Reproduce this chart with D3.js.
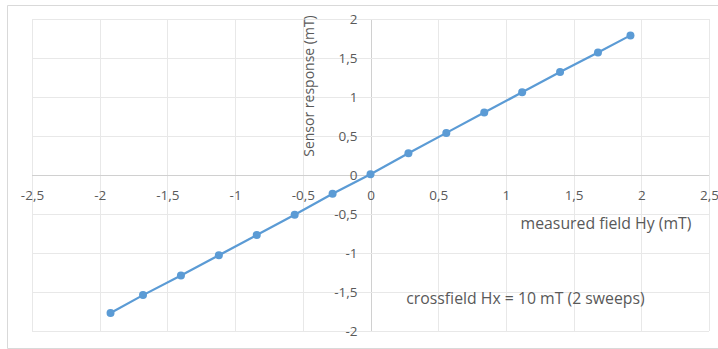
<!DOCTYPE html>
<html>

<head>
    <title>
        Sensor response
    </title>
    <script src="https://cdn.jsdelivr.net/npm/d3@7"></script>
    <style>
        body { margin: 0; background: #fff; }
        text { font-family: "Open Sans", sans-serif; fill: #595959; }
    </style>
</head>

<body>
    <svg></svg>
    <script>
        const width = 718;
        const height = 349;
        const plot = { left: 32, right: 709, top: 19, bottom: 331 };

        // measured field Hy (mT)
        let fieldHy = [-1.92, -1.68, -1.40, -1.12, -0.84, -0.56, -0.28, 0.0, 0.28, 0.56, 0.84, 1.12, 1.40, 1.68, 1.92];
        // sensor response (mT)
        let response = [-1.77, -1.54, -1.29, -1.03, -0.77, -0.51, -0.24, 0.01, 0.28, 0.54, 0.80, 1.06, 1.32, 1.57, 1.79];

        let xTicks = [-2.5, -2, -1.5, -1, -0.5, 0, 0.5, 1, 1.5, 2, 2.5];
        let yTicks = [-2, -1.5, -1, -0.5, 0, 0.5, 1, 1.5, 2];

        let locale = d3.formatLocale({ decimal: ",", thousands: ".", grouping: [3], currency: ["", ""], minus: "-" });
        let fmt = locale.format("");

        let svg = d3.select("svg")
            .attr("width", width)
            .attr("height", height);

        // outer chart frame
        svg.append("path")
            .attr("d", "M" + (width + 1) + ",5.5H7.5V348.5H" + (width + 1))
            .attr("fill", "none")
            .attr("stroke", "#d9d9d9")
            .attr("stroke-width", 1);

        let xScale = d3.scaleLinear()
            .domain([-2.5, 2.5])
            .range([plot.left, plot.right]);

        let yScale = d3.scaleLinear()
            .domain([-2, 2])
            .range([plot.bottom, plot.top]);

        // gridlines
        let grid = svg.append("g");
        grid.selectAll("line.vx")
            .data(xTicks)
            .enter()
            .append("line")
            .attr("x1", (d) => Math.round(xScale(d)) + 0.5)
            .attr("x2", (d) => Math.round(xScale(d)) + 0.5)
            .attr("y1", plot.top)
            .attr("y2", plot.bottom)
            .attr("stroke", (d) => d === 0 ? "#d0d0d0" : "#e8e8e8");

        grid.selectAll("line.hy")
            .data(yTicks)
            .enter()
            .append("line")
            .attr("y1", (d) => Math.round(yScale(d)) + 0.5)
            .attr("y2", (d) => Math.round(yScale(d)) + 0.5)
            .attr("x1", plot.left)
            .attr("x2", plot.right)
            .attr("stroke", (d) => d === 0 ? "#d0d0d0" : "#e8e8e8");

        // axes through the origin, tick labels only
        let xAxis = d3.axisBottom(xScale)
            .tickValues(xTicks)
            .tickFormat(fmt)
            .tickSize(0)
            .tickPadding(15);
        let yAxis = d3.axisLeft(yScale)
            .tickValues(yTicks)
            .tickFormat(fmt)
            .tickSize(0)
            .tickPadding(13);

        let gx = svg.append("g")
            .attr("transform", "translate(0," + yScale(0) + ")")
            .call(xAxis);
        let gy = svg.append("g")
            .attr("transform", "translate(" + xScale(0) + ",0)")
            .call(yAxis);

        [gx, gy].forEach((g) => {
            g.select(".domain").remove();
            g.selectAll("text")
                .attr("font-size", 13.5)
                .attr("font-family", "'Open Sans', sans-serif")
                .attr("fill", "#595959");
        });

        // series line
        let linePath = d3.line()
            .x((d) => xScale(d[0]))
            .y((d) => yScale(d[1]));

        let points = fieldHy.map((v, i) => [v, response[i]]);

        svg.append("path")
            .attr("d", linePath(points))
            .attr("fill", "none")
            .attr("stroke", "#5b9bd5")
            .attr("stroke-width", 2.25);

        svg.selectAll("circle")
            .data(points)
            .enter()
            .append("circle")
            .attr("cx", (d) => xScale(d[0]))
            .attr("cy", (d) => yScale(d[1]))
            .attr("r", 4)
            .attr("fill", "#5b9bd5");

        // titles
        svg.append("text")
            .attr("transform", "translate(314,86) rotate(-90)")
            .attr("text-anchor", "middle")
            .attr("font-size", 14)
            .text("Sensor response (mT)");

        svg.append("text")
            .attr("x", 606)
            .attr("y", 229)
            .attr("text-anchor", "middle")
            .attr("font-size", 15.8)
            .text("measured field Hy (mT)");

        svg.append("text")
            .attr("x", 525.5)
            .attr("y", 304)
            .attr("text-anchor", "middle")
            .attr("font-size", 15.8)
            .text("crossfield Hx = 10 mT (2 sweeps)");
    </script>
</body>

</html>
